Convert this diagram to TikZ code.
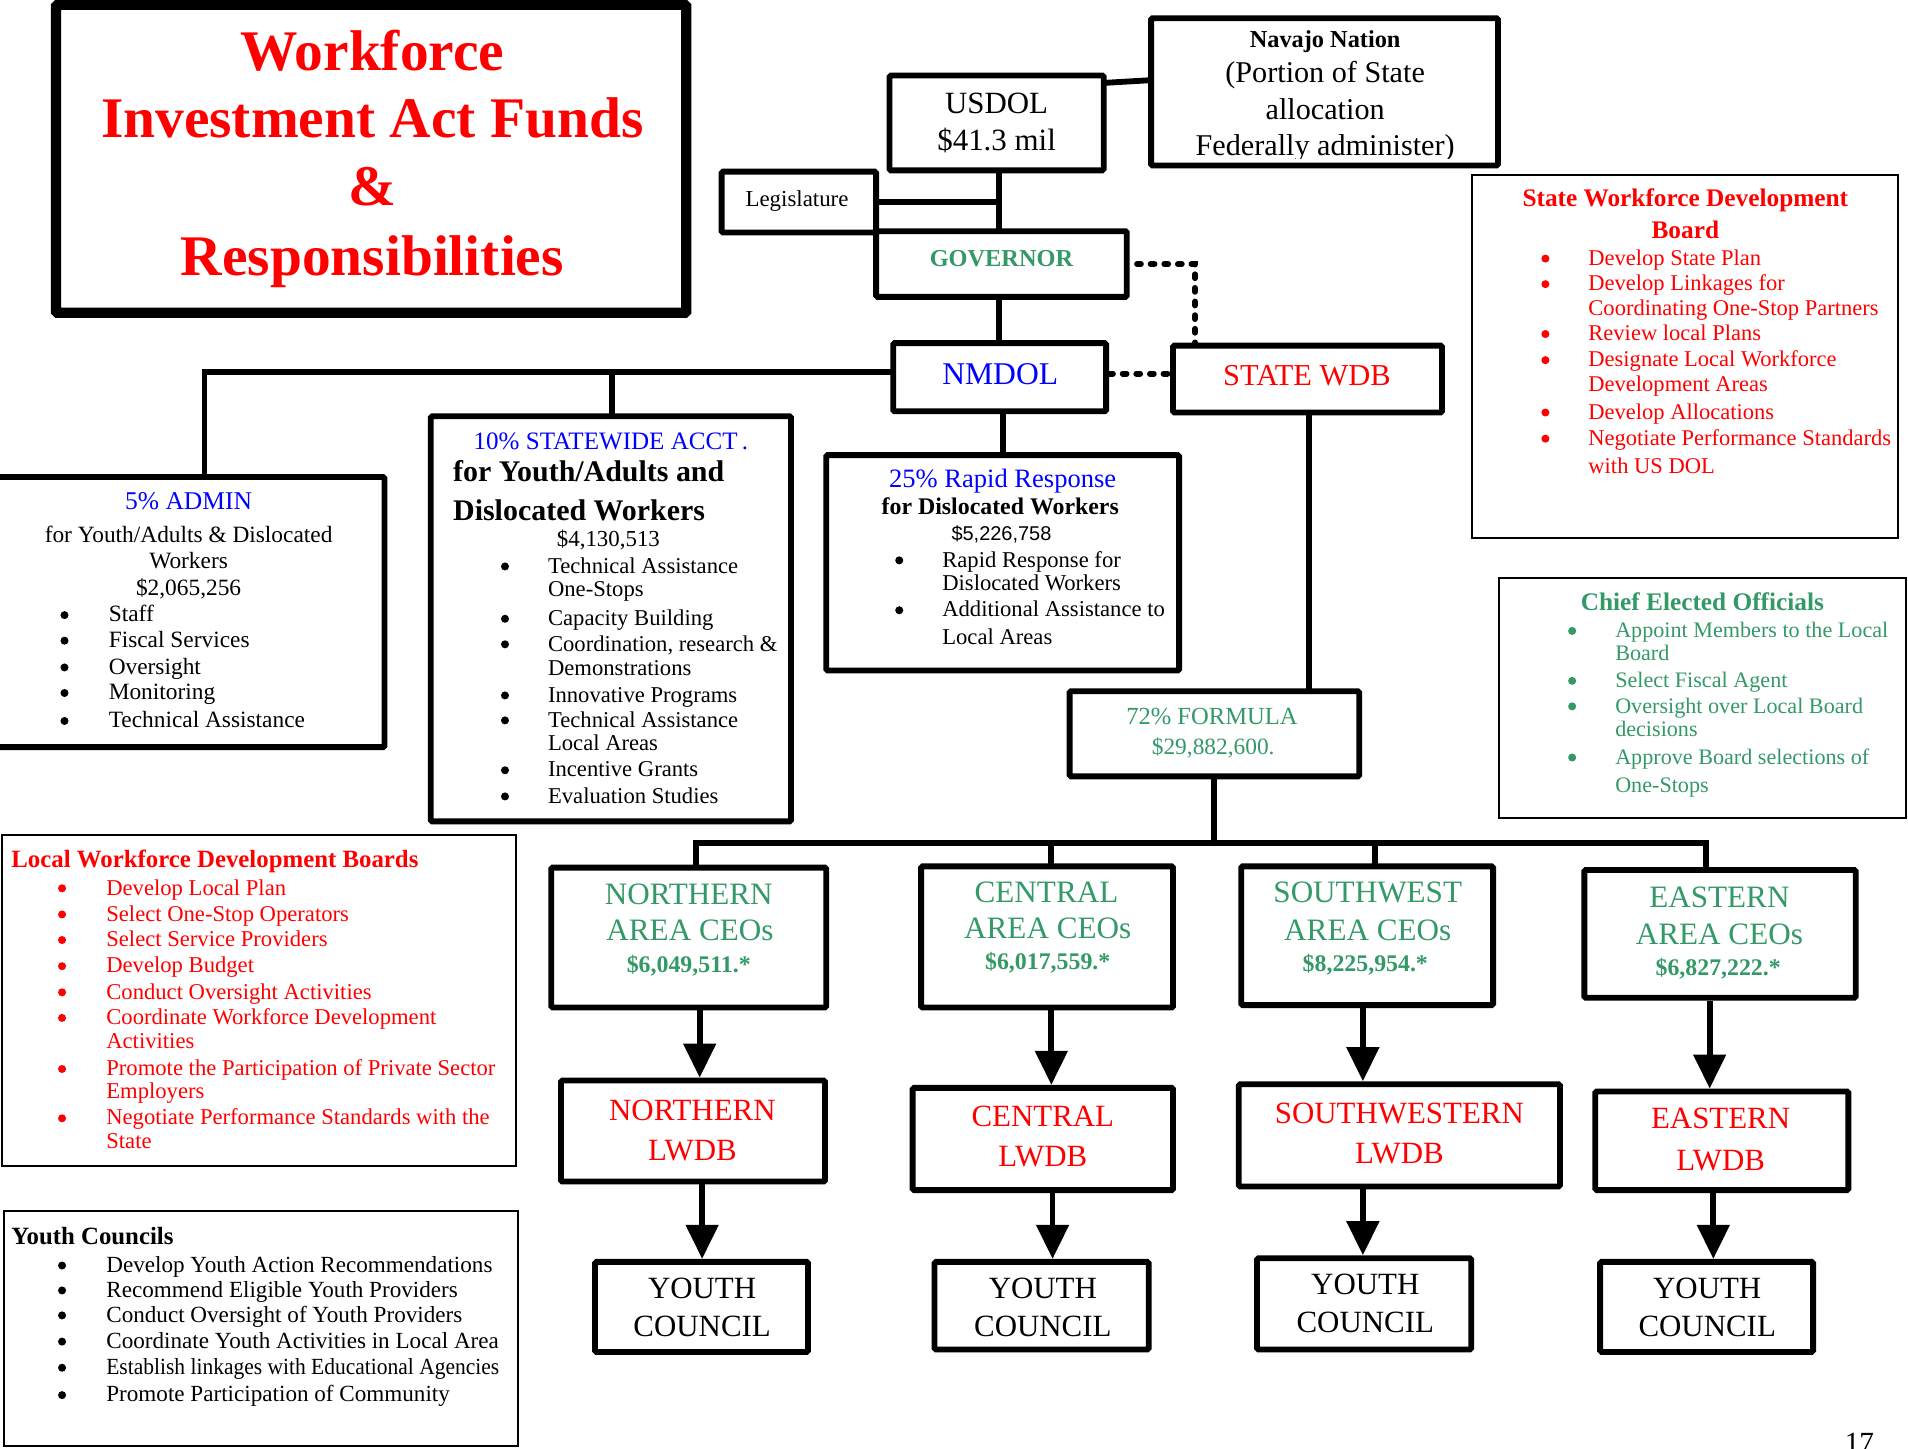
\documentclass[tikz,border=0pt]{standalone}
\usepackage{fontspec}
\setmainfont{Liberation Serif}
\newfontfamily\sansf{Liberation Sans}
\usetikzlibrary{arrows.meta}
\definecolor{wred}{RGB}{255,0,0}
\definecolor{wblue}{RGB}{0,0,255}
\definecolor{wgreen}{RGB}{51,153,102}
\newcommand\fz[1]{\fontsize{#1pt}{#1pt}\selectfont}
% box node from corner coordinates: [style]{name}{x1}{y1}{x2}{y2}
\newcommand\bx[6][]{\node[#1, minimum width={(#5-#3)*0.5pt}, minimum height={(#6-#4)*0.5pt}] (#2) at ({(#3+#5)/2},{(#4+#6)/2}) {};}
% bullet list: {prefix}{bullet x}{text x}{colour}{font size}{y/bullet/text,...}
\newcommand\blist[6]{%
  \foreach \yy/\bb/\itemtxt [count=\ii] in {#6}{%
    \node[tl,font=\fz{#5},text=#4] (#1t\ii) at (#3,\yy) {\itemtxt};
    \ifnum\bb=1 \node[circle,fill=#4,inner sep=0pt,minimum size=3.3pt] (#1b\ii) at (#2,\yy-5.5) {};\fi
  }%
}
\begin{document}
\begin{tikzpicture}[x=0.5pt,y=-0.5pt,
  tb/.style={draw, line width=2.4pt, inner sep=0pt, rounded corners=0.6pt},
  nb/.style={draw, line width=0.8pt, inner sep=0pt},
  conn/.style={line width=2.4pt, line cap=round},
  dconn/.style={line width=2.4pt, line cap=round, dash pattern=on 1.6pt off 4pt},
  arr/.style={line width=2.4pt, -{Triangle[width=13pt,length=14pt]}},
  t/.style={inner sep=0pt, anchor=base},
  tl/.style={inner sep=0pt, anchor=base west},
]
\useasboundingbox (0,0) rectangle (1568,1190);
\clip (0,0) rectangle (1568,1190);
\fill[white] (0,0) rectangle (1568,1190);

% ---------- title ----------
\bx[tb, line width=4.2pt]{titlebox}{46}{4}{564}{257}
\node[t,font=\fz{23.6}\bfseries,text=wred] (ti1) at (306,58) {Workforce};
\node[t,font=\fz{23.6}\bfseries,text=wred] (ti2) at (306,113) {Investment Act Funds};
\node[t,font=\fz{23.6}\bfseries,text=wred] (ti3) at (306,169) {\&};
\node[t,font=\fz{23.6}\bfseries,text=wred] (ti4) at (306,226) {Responsibilities};

% ---------- top chain ----------
\bx[tb]{usdol}{731}{62}{907}{140}
\node[t,font=\fz{12.7}] (usdol1) at (819,93) {USDOL};
\node[t,font=\fz{12.7}] (usdol2) at (819,124) {\$41.3 mil};

\bx[tb]{navajo}{946}{15}{1231}{136}
\begin{scope}
\clip (948,17) rectangle (1229,130);
\node[t,font=\fz{10}\bfseries] (nav1) at (1089,39) {Navajo Nation};
\node[t,font=\fz{12.4}] (nav2) at (1089,68) {(Portion of State};
\node[t,font=\fz{12.4}] (nav3) at (1089,98) {allocation};
\node[t,font=\fz{12.4}] (nav4) at (1089,127.5) {Federally administer)};
\end{scope}

\bx[tb]{leg}{593}{141}{720}{191}
\node[t,font=\fz{9.4}] (leg1) at (655,170) {Legislature};

\bx[tb]{gov}{720}{190}{926}{244}
\node[t,font=\fz{10}\bfseries,text=wgreen] (gov1) at (823,219) {GOVERNOR};

\bx[tb]{nmdol}{734}{282}{909}{338}
\node[t,font=\fz{13},text=wblue] (nm1) at (822,316) {NMDOL};

\bx[tb]{swdb}{964}{284}{1185}{339}
\node[t,font=\fz{12.5},text=wred] (sw1) at (1074,316.5) {STATE WDB};

% ---------- 5% admin ----------
\bx[tb]{admin}{-10}{392}{316}{614}
\node[t,font=\fz{10.5},text=wblue] (adm1) at (155,419) {5\% ADMIN};
\node[t,font=\fz{9.6}] (adm2) at (155,446) {for Youth/Adults \& Dislocated};
\node[t,font=\fz{9.6}] (adm3) at (155,467) {Workers};
\node[t,font=\fz{9.6}] (adm4) at (155,489) {\$2,065,256};
\blist{adl}{53}{89}{black}{9.6}{511/1/Staff,532/1/Fiscal Services,554/1/Oversight,575/1/Monitoring,598/1/Technical Assistance}

% ---------- 10% statewide ----------
\bx[tb]{stw}{354}{342}{650}{675}
\node[t,font=\fz{10.3},text=wblue] (stw1) at (502,369) {10\% STATEWIDE ACCT\,.};
\node[tl,font=\fz{12.3}\bfseries] (stw2) at (372,396) {for Youth/Adults and};
\node[tl,font=\fz{12.3}\bfseries] (stw3) at (372,427.5) {Dislocated Workers};
\node[t,font=\fz{9.4}] (stw4) at (500,449.5) {\$4,130,513};
\blist{stl}{415}{450}{black}{9.3}{471/1/Technical Assistance,490.5/0/One-Stops,514/1/Capacity Building,535/1/{Coordination, research \&},555/0/Demonstrations,577/1/Innovative Programs,597.5/1/Technical Assistance,617/0/Local Areas,638.5/1/Incentive Grants,660/1/Evaluation Studies}

% ---------- 25% rapid response ----------
\bx[tb]{rr}{679}{374}{969}{551}
\node[t,font=\fz{10.9},text=wblue] (rr1) at (824,401) {25\% Rapid Response};
\node[t,font=\fz{9.8}\bfseries] (rr2) at (822,423) {for Dislocated Workers};
\node[t,font=\sansf\fz{8.2}] (rr3) at (823,444.5) {\$5,226,758};
\blist{rrl}{739}{774}{black}{9.3}{466/1/Rapid Response for,485.5/0/Dislocated Workers,507/1/Additional Assistance to,530/0/Local Areas}

% ---------- 72% formula ----------
\bx[tb]{formula}{879}{568}{1117}{638}
\node[t,font=\fz{10.1},text=wgreen] (f1) at (996,595) {72\% FORMULA};
\node[t,font=\fz{9.6},text=wgreen] (f2) at (997,620) {\$29,882,600.};

% ---------- State WDB info ----------
\bx[nb]{sboard}{1210}{144}{1560}{442}
\node[t,font=\fz{10.4}\bfseries,text=wred] (sb1) at (1385,169.5) {State Workforce Development};
\node[t,font=\fz{10.4}\bfseries,text=wred] (sb2) at (1385,196) {Board};
\blist{sbl}{1270}{1305}{wred}{9.25}{218/1/Develop State Plan,239/1/Develop Linkages for,259/0/Coordinating One-Stop Partners,280/1/Review local Plans,301.5/1/Designate Local Workforce,321.5/0/Development Areas,344.5/1/Develop Allocations,366/1/Negotiate Performance Standards,389/0/with US DOL}

% ---------- Chief Elected Officials ----------
\bx[nb]{chief}{1232}{475}{1566}{672}
\node[t,font=\fz{10.4}\bfseries,text=wgreen] (ch1) at (1399,501.5) {Chief Elected Officials};
\blist{chl}{1292}{1327}{wgreen}{9.1}{524/1/Appoint Members to the Local,543/0/Board,565/1/Select Fiscal Agent,586/1/Oversight over Local Board,605/0/decisions,628/1/Approve Board selections of,651/0/One-Stops}

% ---------- Local WDB info ----------
\bx[nb]{lwinfo}{2}{686}{424}{958}
\node[tl,font=\fz{10.2}\bfseries,text=wred] (lw1) at (9,712.5) {Local Workforce Development Boards};
\blist{lwl}{51}{87}{wred}{9.3}{735.5/1/Develop Local Plan,757/1/Select One-Stop Operators,778/1/Select Service Providers,799.5/1/Develop Budget,821/1/Conduct Oversight Activities,842/1/Coordinate Workforce Development,862/0/Activities,884/1/Promote the Participation of Private Sector,902.5/0/Employers,924.5/1/Negotiate Performance Standards with the,943.5/0/State}

% ---------- Youth Councils info ----------
\bx[nb]{ycinfo}{3}{995}{426}{1188}
\node[tl,font=\fz{10.2}\bfseries] (yi1) at (9,1023) {Youth Councils};
\blist{yil}{51}{87}{black}{9.5}{1045.5/1/Develop Youth Action Recommendations,1066/1/Recommend Eligible Youth Providers,1086.5/1/Conduct Oversight of Youth Providers,1108/1/Coordinate Youth Activities in Local Area,1129.5/1/{\scalebox{0.93}[1]{Establish linkages with Educational Agencies}},1152/1/Promote Participation of Community}

% ---------- area CEOs ----------
\bx[tb]{ncea}{453}{713}{679}{828}
\node[t,font=\fz{12.8},text=wgreen] (nc1) at (566,743) {NORTHERN};
\node[t,font=\fz{12.8},text=wgreen] (nc2) at (567,772.5) {AREA CEOs};
\node[t,font=\fz{9.8}\bfseries,text=wgreen] (nc3) at (566,799) {\$6,049,511.*};

\bx[tb]{ccea}{757}{712}{964}{828}
\node[t,font=\fz{12.8},text=wgreen] (cc1) at (860,741.5) {CENTRAL};
\node[t,font=\fz{12.8},text=wgreen] (cc2) at (861,771) {AREA CEOs};
\node[t,font=\fz{9.8}\bfseries,text=wgreen] (cc3) at (861,797) {\$6,017,559.*};

\bx[tb]{swcea}{1020}{712}{1227}{826}
\node[t,font=\fz{12.8},text=wgreen] (sc1) at (1124,742) {SOUTHWEST};
\node[t,font=\fz{12.8},text=wgreen] (sc2) at (1124,772.5) {AREA CEOs};
\node[t,font=\fz{9.8}\bfseries,text=wgreen] (sc3) at (1122,798) {\$8,225,954.*};

\bx[tb]{ecea}{1302}{715}{1525}{820}
\node[t,font=\fz{12.8},text=wgreen] (ec1) at (1413,745.5) {EASTERN};
\node[t,font=\fz{12.8},text=wgreen] (ec2) at (1413,776) {AREA CEOs};
\node[t,font=\fz{9.8}\bfseries,text=wgreen] (ec3) at (1412,801.5) {\$6,827,222.*};

% ---------- LWDBs ----------
\bx[tb]{nl}{461}{888}{678}{971}
\node[t,font=\fz{12.7},text=wred] (nl1) at (569,920.5) {NORTHERN};
\node[t,font=\fz{12.7},text=wred] (nl2) at (569,953.5) {LWDB};

\bx[tb]{cl}{750}{894}{964}{978}
\node[t,font=\fz{12.7},text=wred] (cl1) at (857,925.5) {CENTRAL};
\node[t,font=\fz{12.7},text=wred] (cl2) at (857,958.5) {LWDB};

\bx[tb]{swl}{1018}{891}{1282}{975}
\node[t,font=\fz{12.7},text=wred] (sl1) at (1150,923) {SOUTHWESTERN};
\node[t,font=\fz{12.7},text=wred] (sl2) at (1150,956.5) {LWDB};

\bx[tb]{el}{1311}{897}{1519}{978}
\node[t,font=\fz{12.7},text=wred] (el1) at (1414,927) {EASTERN};
\node[t,font=\fz{12.7},text=wred] (el2) at (1414,961.5) {LWDB};

% ---------- youth councils ----------
\bx[tb]{yc1}{489}{1037}{664}{1111}
\node[t,font=\fz{12.7}] (yc1a) at (577,1067) {YOUTH};
\node[t,font=\fz{12.7}] (yc1b) at (577,1098) {COUNCIL};
\bx[tb]{yc2}{768}{1037}{944}{1109}
\node[t,font=\fz{12.7}] (yc2a) at (857,1067) {YOUTH};
\node[t,font=\fz{12.7}] (yc2b) at (857,1098) {COUNCIL};
\bx[tb]{yc3}{1033}{1034}{1209}{1109}
\node[t,font=\fz{12.7}] (yc3a) at (1122,1064) {YOUTH};
\node[t,font=\fz{12.7}] (yc3b) at (1122,1095) {COUNCIL};
\bx[tb]{yc4}{1315}{1037}{1490}{1111}
\node[t,font=\fz{12.7}] (yc4a) at (1403,1067) {YOUTH};
\node[t,font=\fz{12.7}] (yc4b) at (1403,1098) {COUNCIL};

\node[t,font=\fz{12}] (pg) at (1528,1194) {17};

% ---------- connectors ----------
\coordinate (legj) at (821,166);
\draw[conn] (usdol.south -| 821,0) -- (gov.north -| 821,0);
\draw[conn] (leg.east |- legj) -- (legj);
\draw[conn] (usdol.east |- 0,68) -- (navajo.west |- 0,66);
\draw[conn] (gov.south -| 821,0) -- (nmdol.north -| 821,0);
\draw[dconn] ([xshift=3pt]gov.east) -| (swdb.north -| 982,0);
\draw[dconn] (nmdol.east |- 0,307) -- (swdb.west |- 0,307);
\draw[conn] (nmdol.west |- 0,306) -| (admin.north -| 168,0);
\coordinate (j10) at (503,306);
\draw[conn] (j10) -- (stw.north -| j10);
\draw[conn] (nmdol.south -| 824,0) -- (rr.north -| 824,0);
\draw[conn] (swdb.south -| 1076,0) -- (formula.north -| 1076,0);
\coordinate (busc) at (998,693);
\coordinate (busl) at (572,693);
\coordinate (busr) at (1402,693);
\coordinate (busc2) at (864,693);
\coordinate (busc3) at (1130,693);
\draw[conn] (formula.south -| busc) -- (busc);
\draw[conn] (ncea.north -| busl) -- (busl) -- (busr) -- (ecea.north -| busr);
\draw[conn] (busc2) -- (ccea.north -| busc2);
\draw[conn] (busc3) -- (swcea.north -| busc3);

\draw[arr] (ncea.south -| 575,0) -- (nl.north -| 575,0);
\draw[arr] (ccea.south -| 864,0) -- (cl.north -| 864,0);
\draw[arr] (swcea.south -| 1120,0) -- (swl.north -| 1120,0);
\draw[arr] (ecea.south -| 1405,0) -- (el.north -| 1405,0);
\draw[arr] (nl.south -| 577,0) -- (yc1.north -| 577,0);
\draw[arr] (cl.south -| 865,0) -- (yc2.north -| 865,0);
\draw[arr] (swl.south -| 1120,0) -- (yc3.north -| 1120,0);
\draw[arr] (el.south -| 1408,0) -- (yc4.north -| 1408,0);
\end{tikzpicture}
\end{document}
